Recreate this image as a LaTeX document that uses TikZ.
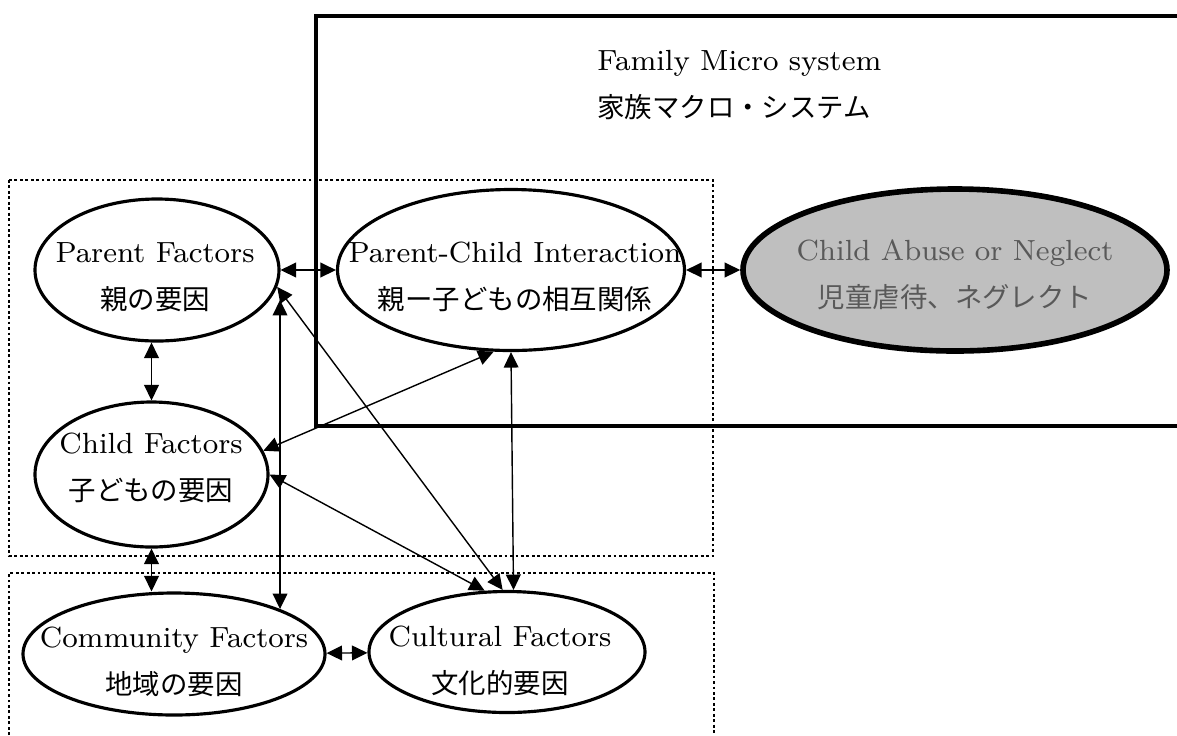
\documentclass[tikz,border=0pt]{standalone}
\usepackage{fontspec}
\newfontfamily\jp[Scale=0.94]{Noto Sans CJK JP}
\usetikzlibrary{arrows.meta, shapes.geometric, positioning}
\definecolor{abusefill}{HTML}{BFBFBF}
\definecolor{abusetext}{HTML}{595959}
\tikzset{
  factor/.style = {draw, ellipse, line width=0.9pt, inner sep=0pt},
  abuse/.style = {fill=abusefill, line width=1.6pt},
  caption/.style = {align=center, font=\fontsize{8.3pt}{13.3pt}\selectfont},
  link/.style = {<->, >={Triangle[length=4.4pt, width=4.2pt]}, line width=0.4pt},
  zone/.style = {line width=0.8pt, dash pattern=on 0.8pt off 0.75pt},
  micro/.style = {line width=1.2pt}
}

\begin{document}
\begin{tikzpicture}

  \useasboundingbox (0,0) rectangle (11.77,-7.35);

  %% Family micro system (frame runs off the right edge)
  \draw[micro] (11.77,-0.16) -- (3.16,-0.16) -- (3.16,-4.26) -- (11.77,-4.26);
  \node[caption, align=left, anchor=west] (family) at (5.85,-0.85)
    {Family Micro system\\{\jp 家族マクロ・システム}};

  %% Dotted zones
  \draw[zone] (0.09,-1.80) rectangle (7.13,-5.56);
  \draw[zone] (0.09,-7.35) -- (0.09,-5.73) -- (7.14,-5.73) -- (7.14,-7.35);

  %% Factors
  \node[factor, minimum width=2.44cm, minimum height=1.42cm] (pf) at (1.57,-2.70) {};
  \node[factor, minimum width=3.47cm, minimum height=1.61cm] (pci) at (5.11,-2.70) {};
  \node[factor, abuse, minimum width=4.24cm, minimum height=1.62cm] (ca) at (9.55,-2.70) {};
  \node[factor, minimum width=2.33cm, minimum height=1.45cm] (cf) at (1.515,-4.745) {};
  \node[factor, minimum width=3.02cm, minimum height=1.22cm] (comm) at (1.74,-6.54) {};
  \node[factor, minimum width=2.76cm, minimum height=1.21cm] (cult) at (5.07,-6.52) {};

  % Labels
  \node[caption] (pf-t) at (1.55,-2.77) {Parent Factors\\{\jp 親の要因}};
  \node[caption] (pci-t) at (5.15,-2.77) {Parent-Child Interaction\\{\jp 親ー子どもの相互関係}};
  \node[caption, text=abusetext] (ca-t) at (9.55,-2.75) {Child Abuse or Neglect\\{\jp 児童虐待、ネグレクト}};
  \node[caption] (cf-t) at (1.51,-4.68) {Child Factors\\{\jp 子どもの要因}};
  \node[caption] (comm-t) at (1.74,-6.62) {Community Factors\\{\jp 地域の要因}};
  \node[caption] (cult-t) at (5.00,-6.61) {Cultural Factors\\{\jp 文化的要因}};

  %% Links
  \coordinate (pf-low) at (2.78,-3.00);
  \draw[link] (pf) -- (pci);
  \draw[link] (pci) -- (ca);
  \draw[link] (cf.north |- pf.south) -- (cf.north);
  \draw[link] (cf.south) -- (cf.south |- comm.north);
  \draw[link] (comm) -- (cult);
  \draw[link] (comm.23) -- (comm.23 |- pf-low);
  \draw[link] (pci.south) -- (cult.84);
  \draw[link] (pf.-8) -- (cult.94);
  \draw[link] (cf.east) -- (cult.110);
  \draw[link] (pci.258) -- (cf.12);

\end{tikzpicture}
\end{document}
